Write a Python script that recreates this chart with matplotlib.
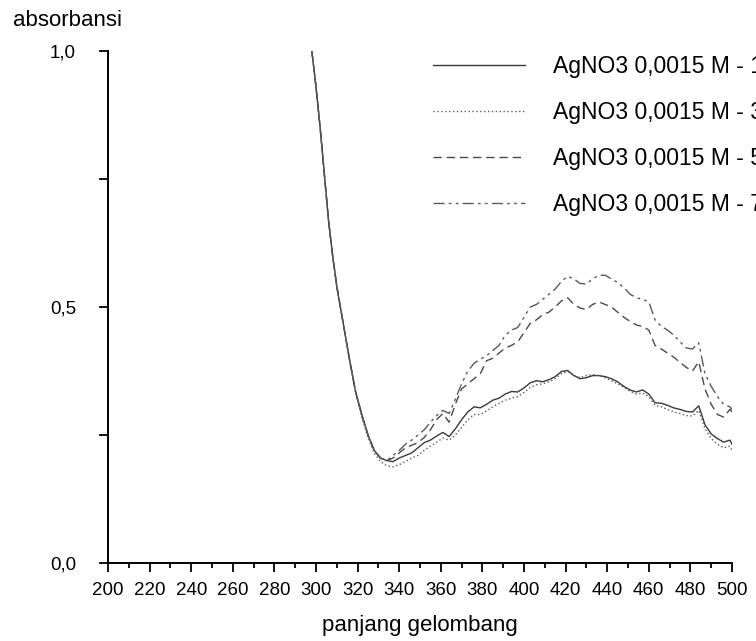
import matplotlib
matplotlib.use("Agg")
import matplotlib.pyplot as plt
from matplotlib.ticker import FixedLocator, MultipleLocator

plt.rcParams["font.family"] = ["Liberation Sans", "DejaVu Sans"]

# wavelength grid (nm)
wavelength = [298, 300, 302, 304, 306, 308, 310, 313, 316, 319, 322, 325, 328, 331,
              334, 337, 340, 343, 346, 349, 352, 355, 358, 361, 364, 367, 370, 373,
              376, 379, 382, 385, 388, 391, 394, 397, 400, 403, 406, 409, 412, 415,
              418, 421, 424, 427, 430, 433, 436, 439, 442, 445, 448, 451, 454, 457,
              460, 463, 466, 469, 472, 475, 478, 481, 484, 487, 490, 493, 496, 499, 500]

# absorbance readings
abs_1 = [1.00, 0.93, 0.85, 0.76, 0.67, 0.60, 0.54, 0.47, 0.40, 0.335, 0.29, 0.25, 0.22, 0.205,
         0.200, 0.198, 0.205, 0.210, 0.215, 0.225, 0.235, 0.240, 0.248, 0.255, 0.247, 0.262, 0.280, 0.295,
         0.305, 0.303, 0.310, 0.318, 0.322, 0.330, 0.335, 0.334, 0.342, 0.352, 0.356, 0.354, 0.358, 0.364,
         0.374, 0.376, 0.366, 0.360, 0.362, 0.366, 0.366, 0.364, 0.360, 0.354, 0.345, 0.338, 0.334, 0.338,
         0.330, 0.313, 0.312, 0.308, 0.303, 0.300, 0.296, 0.295, 0.307, 0.270, 0.252, 0.243, 0.236, 0.240, 0.232]

abs_3 = [1.00, 0.93, 0.85, 0.76, 0.67, 0.60, 0.54, 0.47, 0.40, 0.335, 0.285, 0.245, 0.215, 0.198,
         0.190, 0.188, 0.192, 0.198, 0.205, 0.210, 0.220, 0.228, 0.236, 0.244, 0.240, 0.250, 0.265, 0.280,
         0.290, 0.290, 0.297, 0.305, 0.312, 0.318, 0.322, 0.325, 0.333, 0.343, 0.348, 0.350, 0.354, 0.360,
         0.370, 0.374, 0.366, 0.362, 0.366, 0.368, 0.366, 0.362, 0.356, 0.350, 0.343, 0.335, 0.330, 0.332,
         0.325, 0.308, 0.305, 0.300, 0.295, 0.292, 0.288, 0.287, 0.298, 0.262, 0.243, 0.232, 0.225, 0.228, 0.220]

abs_5 = [1.00, 0.93, 0.85, 0.76, 0.67, 0.60, 0.54, 0.47, 0.40, 0.335, 0.29, 0.25, 0.22, 0.205,
         0.200, 0.205, 0.215, 0.225, 0.230, 0.235, 0.245, 0.260, 0.280, 0.292, 0.275, 0.310, 0.340, 0.350,
         0.360, 0.370, 0.395, 0.400, 0.410, 0.420, 0.425, 0.432, 0.450, 0.468, 0.475, 0.485, 0.490, 0.500,
         0.512, 0.518, 0.505, 0.498, 0.495, 0.505, 0.510, 0.505, 0.500, 0.490, 0.480, 0.472, 0.465, 0.462,
         0.455, 0.425, 0.418, 0.410, 0.402, 0.392, 0.382, 0.375, 0.393, 0.340, 0.310, 0.290, 0.285, 0.300, 0.295]

abs_7 = [1.00, 0.93, 0.85, 0.76, 0.67, 0.60, 0.54, 0.47, 0.40, 0.335, 0.29, 0.25, 0.22, 0.205,
         0.200, 0.210, 0.220, 0.232, 0.240, 0.250, 0.260, 0.275, 0.288, 0.298, 0.292, 0.320, 0.350, 0.375,
         0.390, 0.398, 0.405, 0.415, 0.425, 0.445, 0.455, 0.460, 0.480, 0.500, 0.505, 0.515, 0.525, 0.535,
         0.550, 0.560, 0.555, 0.546, 0.545, 0.555, 0.562, 0.562, 0.555, 0.548, 0.538, 0.525, 0.518, 0.515,
         0.510, 0.475, 0.462, 0.455, 0.445, 0.432, 0.420, 0.418, 0.430, 0.370, 0.345, 0.325, 0.310, 0.305, 0.300]

series_labels = ["AgNO3 0,0015 M - 1", "AgNO3 0,0015 M - 3",
                 "AgNO3 0,0015 M - 5", "AgNO3 0,0015 M - 7"]

x_ticks = list(range(200, 501, 20))
y_ticks = [0.0, 0.5, 1.0]
y_tick_labels = ["0,0", "0,5", "1,0"]

W, H = 756, 641
fig = plt.figure(figsize=(W / 100, H / 100), dpi=100)
ax = fig.add_axes([108 / W, (H - 563) / H, (732 - 108) / W, (563 - 51) / H])

styles = [
    dict(color="#3a3a3a", linestyle="-", linewidth=1.0),
    dict(color="#5a5a5a", linestyle=(0, (1, 1.8)), linewidth=1.0),
    dict(color="#4a4a4a", linestyle=(0, (6, 3.5)), linewidth=1.0),
    dict(color="#5a5a5a", linestyle=(0, (8, 3, 2, 3, 2, 3)), linewidth=1.0),
]
for vals, lab, st in zip([abs_1, abs_3, abs_5, abs_7], series_labels, styles):
    ax.plot(wavelength, vals, label=lab, **st)

ax.set_xlim(200, 500)
ax.set_ylim(0, 1.0)
for side in ["top", "right"]:
    ax.spines[side].set_visible(False)
for side in ["left", "bottom"]:
    ax.spines[side].set_linewidth(1.4)
    ax.spines[side].set_color("black")

ax.xaxis.set_major_locator(FixedLocator(x_ticks))
ax.xaxis.set_minor_locator(MultipleLocator(10))
ax.set_xticklabels([str(v) for v in x_ticks])
ax.yaxis.set_major_locator(FixedLocator(y_ticks))
ax.yaxis.set_minor_locator(FixedLocator([0.25, 0.75]))
ax.set_yticklabels(y_tick_labels)

ax.tick_params(axis="x", which="major", direction="out", length=6.5, width=1.3, labelsize=13.5, pad=7)
ax.tick_params(axis="x", which="minor", direction="out", length=3.6, width=1.3)
ax.tick_params(axis="y", which="both", direction="out", length=6.5, width=1.3, labelsize=13.5, pad=16.5)

fig.text(13 / W, 1 - 21 / H, "absorbansi", fontsize=16, ha="left", va="center")
fig.text((108 + 732) / 2 / W, 1 - 625 / H, "panjang gelombang", fontsize=16, ha="center", va="center")

# legend runs past the right edge, as in the original screenshot
ax.legend(loc="upper left", bbox_to_anchor=(433 / W, 1 - 55 / H), bbox_transform=fig.transFigure,
          frameon=False, fontsize=16.5, handlelength=4.0, handletextpad=1.25, labelspacing=1.0,
          borderaxespad=0, borderpad=0)

fig.savefig("out.png", dpi=100)
